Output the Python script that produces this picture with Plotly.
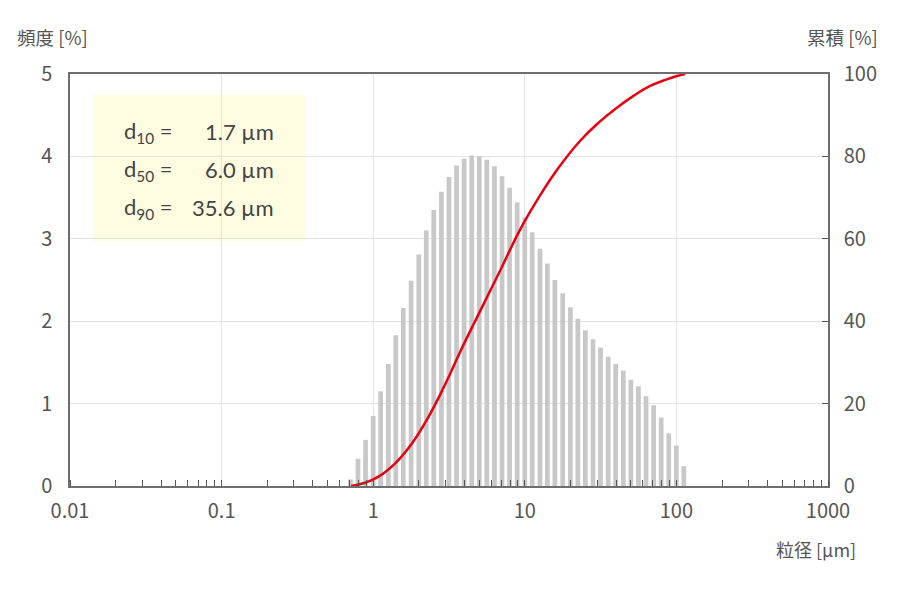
import plotly.graph_objects as go

# particle size classes (µm) and frequency (%)
sizes = [0.708, 0.794, 0.891, 1.00, 1.12, 1.26, 1.41, 1.58, 1.78, 2.00,
         2.24, 2.51, 2.82, 3.16, 3.55, 3.98, 4.47, 5.01, 5.62, 6.31,
         7.08, 7.94, 8.91, 10.0, 11.2, 12.6, 14.1, 15.8, 17.8, 20.0,
         22.4, 25.1, 28.2, 31.6, 35.5, 39.8, 44.7, 50.1, 56.2, 63.1,
         70.8, 79.4, 89.1, 100.0, 112.0]
freq = [0.08, 0.33, 0.56, 0.85, 1.15, 1.48, 1.83, 2.16, 2.49, 2.81,
        3.10, 3.35, 3.57, 3.75, 3.89, 3.97, 4.01, 4.00, 3.96, 3.88,
        3.76, 3.62, 3.44, 3.26, 3.08, 2.88, 2.70, 2.50, 2.34, 2.17,
        2.03, 1.89, 1.78, 1.68, 1.57, 1.48, 1.40, 1.29, 1.21, 1.09,
        0.98, 0.83, 0.64, 0.49, 0.24]

# cumulative curve (%)
cum_x = [0.716, 0.885, 1.084, 1.397, 1.80, 2.317, 2.985, 3.749, 5.08, 6.88,
         9.33, 12.64, 16.28, 23.2, 31.4, 40.5, 52.1, 67.2, 86.5, 100.7, 114.3]
cum_y = [0.0, 0.8, 2.26, 5.5, 10.3, 16.8, 24.7, 32.6, 42.5, 52.3,
         62.3, 70.6, 76.7, 83.8, 88.5, 91.8, 94.7, 97.1, 98.7, 99.5, 100.0]

x_ticks = [0.01, 0.1, 1, 10, 100, 1000]
x_tick_text = ["0.01", "0.1", "1", "10", "100", "1000"]

d_labels = ["d<sub>10</sub> =", "d<sub>50</sub> =", "d<sub>90</sub> ="]
d_values = ["1.7 µm", "6.0 µm", "35.6 µm"]

FONT = "Noto Sans CJK JP, Noto Sans, sans-serif"
TXT = "#555555"

# bar width: constant width on the log scale (about 0.031 decade)
half = 10 ** 0.0155
bar_widths = [s * (half - 1 / half) for s in sizes]

fig = go.Figure()
fig.add_trace(go.Bar(x=sizes, y=freq, width=bar_widths,
                     marker=dict(color="#c8c8c8", line=dict(width=0)),
                     yaxis="y", showlegend=False))
fig.add_trace(go.Scatter(x=cum_x, y=cum_y, mode="lines", yaxis="y2",
                         line=dict(color="#e60012", width=2.5, shape="spline", smoothing=1.3),
                         showlegend=False))

fig.update_layout(
    width=892, height=588,
    margin=dict(l=62, r=72, t=66, b=110),
    paper_bgcolor="white", plot_bgcolor="white",
    font=dict(family=FONT, color=TXT, size=20),
    xaxis=dict(type="log", range=[-2, 3], tickvals=x_ticks, ticktext=x_tick_text,
               ticks="", showgrid=True, gridcolor="#e3e3e3", gridwidth=1,
               showline=True, linecolor="#6e6e6e", linewidth=1.5, mirror=True,
               minor=dict(ticks="inside", ticklen=6, tickcolor="#555555", tickwidth=1.3,
                          dtick="D1", showgrid=False),
               tickfont=dict(size=20, color=TXT), ticklabelstandoff=6,
               zeroline=False, automargin=False),
    yaxis=dict(range=[0, 5], dtick=1, ticks="", showgrid=True, gridcolor="#e3e3e3",
               showline=True, linecolor="#6e6e6e", linewidth=1.5, mirror=True,
               tickfont=dict(size=20, color=TXT), ticklabelstandoff=12,
               zeroline=False, automargin=False),
    yaxis2=dict(range=[0, 100], dtick=20, overlaying="y", side="right",
                ticks="inside", ticklen=6, tickcolor="#555555", tickwidth=1.3, showgrid=False,
                showline=True, linecolor="#6e6e6e", linewidth=1.5,
                tickfont=dict(size=20, color=TXT), ticklabelstandoff=10,
                zeroline=False, automargin=False),
)

fig.add_shape(type="rect", xref="paper", yref="paper", x0=0.0303, x1=0.310,
              y0=0.5947, y1=0.949, fillcolor="#fefde2", line=dict(width=0), layer="below")

rows_y = [0.860, 0.767, 0.675]
for lab, val, yy in zip(d_labels, d_values, rows_y):
    fig.add_annotation(x=0.0686, y=yy, xref="paper", yref="paper", text=lab,
                       showarrow=False, xanchor="left", yanchor="middle",
                       font=dict(size=22, color="#444444", family="Lato, Noto Sans, sans-serif"))
    fig.add_annotation(x=0.2718, y=yy, xref="paper", yref="paper", text=val,
                       showarrow=False, xanchor="right", yanchor="middle",
                       font=dict(size=22, color="#444444", family="Lato, Noto Sans, sans-serif"))

fig.add_annotation(x=-0.073, y=1.0898, xref="paper", yref="paper", text="頻度 [%]",
                   showarrow=False, xanchor="left", yanchor="middle",
                   font=dict(size=18.5, color=TXT))
fig.add_annotation(x=1.069, y=1.0898, xref="paper", yref="paper", text="累積 [%]",
                   showarrow=False, xanchor="right", yanchor="middle",
                   font=dict(size=18.5, color=TXT))
fig.add_annotation(x=1.0396, y=-0.153, xref="paper", yref="paper", text="粒径 [µm]",
                   showarrow=False, xanchor="right", yanchor="middle",
                   font=dict(size=18, color=TXT))

fig.write_html("out.html")
